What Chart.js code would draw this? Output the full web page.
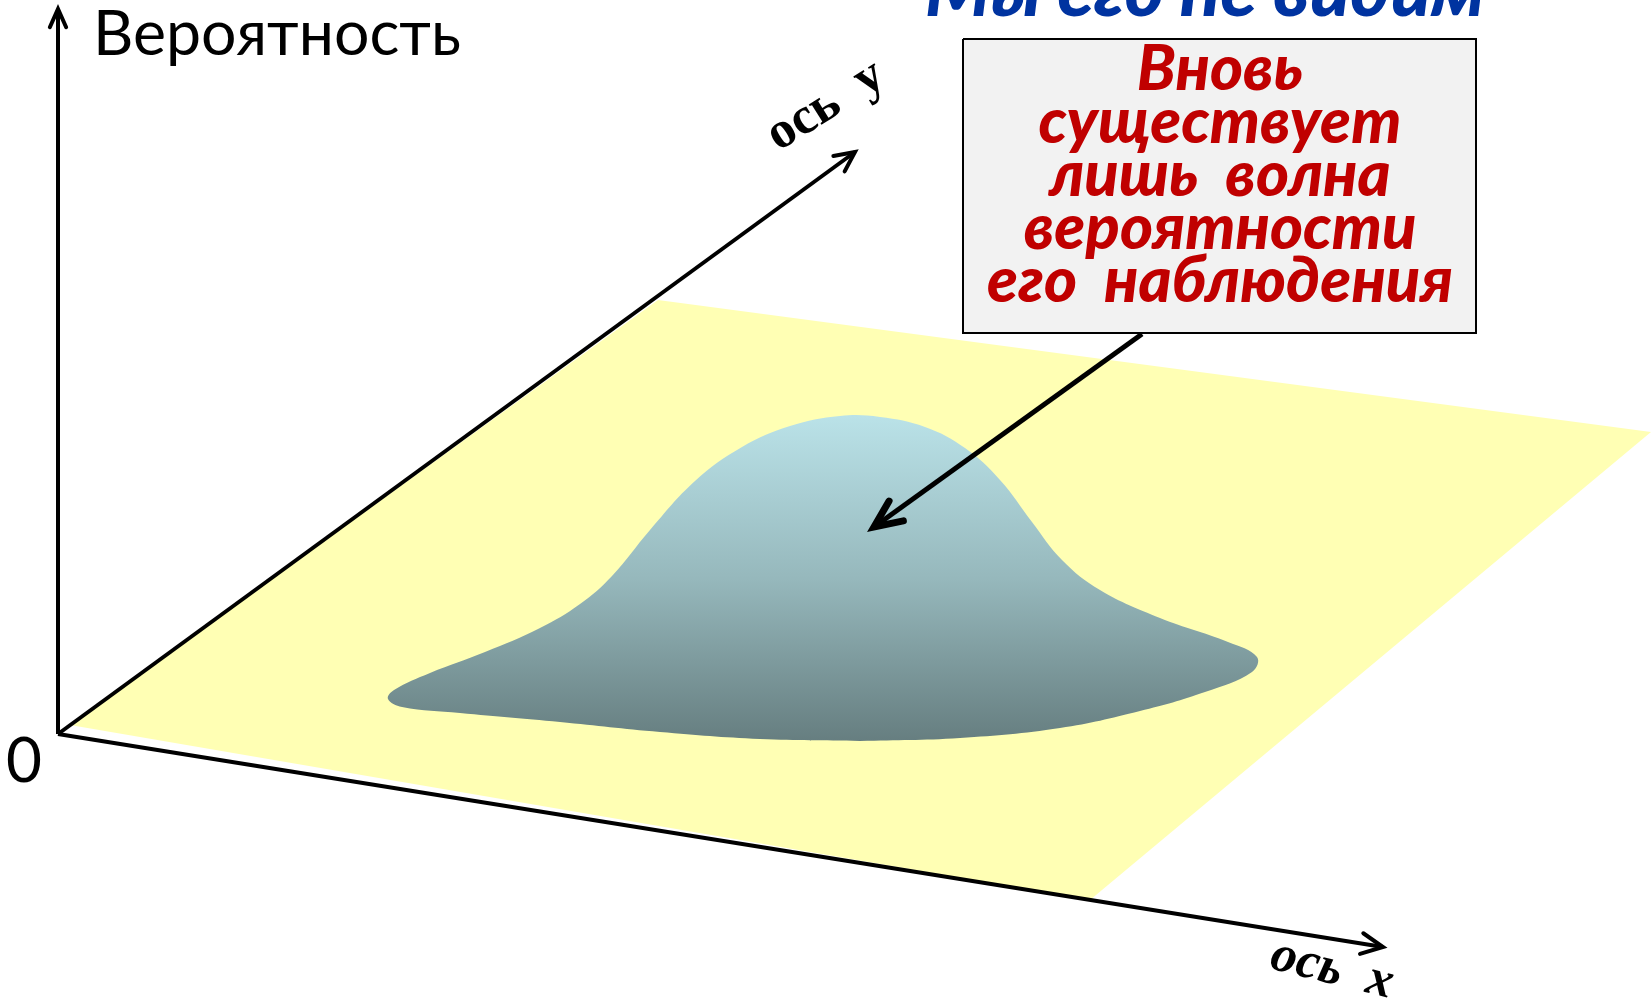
<!DOCTYPE html>
<html>
<head>
<meta charset="utf-8">
<script src="https://cdn.jsdelivr.net/npm/chart.js@4.4.0/dist/chart.umd.min.js"></script>
<style>
html, body { margin: 0; padding: 0; background: #fff; }
#wrap { width: 1651px; height: 998px; position: relative; }
</style>
</head>
<body>
<div id="wrap"><canvas id="waveChart"></canvas></div>
<script>
// picture coordinates, y grows downward (the y scale is reversed)
const planeX = [70, 658, 1651, 1090, 70];
const planeY = [725, 300, 432, 900, 725];

// outline of the wave, starting at the bottom so the seam falls on a flat part
const blobX = [860, 760, 660, 560, 460, 402, 388, 394, 430, 485, 540, 580, 612, 650, 695, 742, 790, 840, 880, 925, 965, 1000, 1032, 1062, 1100, 1160, 1228, 1257, 1252, 1205, 1140, 1060, 960, 860];
const blobY = [741, 739, 732, 722, 713, 707, 699, 690, 673, 652, 628, 604, 576, 530, 481, 447, 426, 416, 417, 427, 448, 480, 522, 560, 590, 618, 642, 657, 672, 692, 711, 728, 738, 741];

const axisVertX = [58, 58];
const axisVertY = [734, 9];
const axisDepthX = [58, 855];
const axisDepthY = [734, 152];
const axisRightX = [58, 1383];
const axisRightY = [734, 947];

const boxX = [963, 1476, 1476, 963, 963];
const boxY = [39, 39, 333, 333, 39];

const pointerX = [1142, 874];
const pointerY = [334, 527];

const probLabel = 'Вероятность';
const zeroLabel = '0';
const depthLabel = 'ось  y';
const rightLabel = 'ось  x';
const headerText = 'Мы его не видим';
const boxLines = ['Вновь', 'существует', 'лишь  волна', 'вероятности', 'его  наблюдения'];

const toPts = (xs, ys) => xs.map((x, i) => ({ x: x, y: ys[i] }));

const lineSet = (xs, ys, extra) => Object.assign({
    data: toPts(xs, ys),
    showLine: true,
    pointRadius: 0,
    pointHoverRadius: 0,
    borderColor: '#000',
    borderWidth: 4,
    fill: false,
    tension: 0,
    clip: false
}, extra);

const blobFill = (context) => {
    const chart = context.chart;
    const y = chart.scales.y;
    if (!chart.chartArea || !y) return 'rgb(150,184,188)';
    const top = y.getPixelForValue(416), bottom = y.getPixelForValue(741);
    if (!isFinite(top) || !isFinite(bottom)) return 'rgb(150,184,188)';
    const g = chart.ctx.createLinearGradient(0, top, 0, bottom);
    g.addColorStop(0, 'rgb(186,226,232)');
    g.addColorStop(0.5, 'rgb(150,184,188)');
    g.addColorStop(1, 'rgb(102,126,128)');
    return g;
};

// open V heads at the end of datasets that ask for one
const arrowHeads = {
    id: 'arrowHeads',
    afterDatasetsDraw(chart) {
        const c = chart.ctx;
        chart.data.datasets.forEach((ds, i) => {
            if (!ds.arrow) return;
            const pts = chart.getDatasetMeta(i).data;
            const a = pts[pts.length - 2], b = pts[pts.length - 1];
            const ang = Math.atan2(b.y - a.y, b.x - a.x);
            const len = ds.arrow.len, spread = ds.arrow.spread;
            c.save();
            c.strokeStyle = '#000';
            c.lineWidth = ds.arrow.width;
            c.lineCap = 'round';
            c.lineJoin = 'miter';
            c.beginPath();
            c.moveTo(b.x - len * Math.cos(ang - spread), b.y - len * Math.sin(ang - spread));
            c.lineTo(b.x, b.y);
            c.lineTo(b.x - len * Math.cos(ang + spread), b.y - len * Math.sin(ang + spread));
            c.stroke();
            c.restore();
        });
    }
};

const fitSize = (c, text, style, family, target) => {
    c.font = style + ' 100px ' + family;
    return 100 * target / c.measureText(text).width;
};

const textLayer = {
    id: 'textLayer',
    afterDraw(chart) {
        const c = chart.ctx;
        const sx = v => chart.scales.x.getPixelForValue(v);
        const sy = v => chart.scales.y.getPixelForValue(v);
        const sans = 'Lato, "Open Sans", sans-serif';
        c.save();

        // vertical axis title
        let s = fitSize(c, probLabel, '400', sans, 368);
        c.font = '400 ' + s + 'px ' + sans;
        c.fillStyle = '#000';
        c.textAlign = 'left';
        c.textBaseline = 'alphabetic';
        c.fillText(probLabel, sx(93), sy(55));

        c.font = '400 62px ' + sans;
        c.fillText(zeroLabel, sx(6), sy(782));

        // header, cut by the top edge
        s = fitSize(c, headerText, 'italic 900', sans, 560);
        c.font = 'italic 900 ' + s + 'px ' + sans;
        c.fillStyle = 'rgb(0,51,160)';
        c.textAlign = 'center';
        c.fillText(headerText, sx(1205), sy(16));

        // callout text
        s = fitSize(c, boxLines[4], 'italic 900', sans, 466);
        c.font = 'italic 900 ' + s + 'px ' + sans;
        c.fillStyle = '#c00000';
        boxLines.forEach((t, i) => c.fillText(t, sx(1220), sy(90 + i * 53)));

        // axis names
        const serif = '"Liberation Serif", "DejaVu Serif", serif';
        c.fillStyle = '#000';
        c.textBaseline = 'middle';
        c.save();
        c.translate(sx(826), sy(106));
        c.rotate(-32 * Math.PI / 180);
        c.font = '700 52px ' + serif;
        c.fillText(depthLabel, 0, 0);
        c.restore();

        c.save();
        c.translate(sx(1332), sy(970));
        c.rotate(14 * Math.PI / 180);
        c.font = 'italic 700 52px ' + serif;
        c.fillText(rightLabel, 0, 0);
        c.restore();

        c.restore();
    }
};

new Chart(document.getElementById('waveChart').getContext('2d'), {
    type: 'scatter',
    data: {
        datasets: [
            lineSet(planeX, planeY, { fill: 'shape', backgroundColor: 'rgb(255,255,180)', borderColor: 'transparent', borderWidth: 1, order: 6 }),
            lineSet(blobX, blobY, { fill: 'shape', backgroundColor: blobFill, borderColor: 'transparent', borderWidth: 1, tension: 0.4, order: 5 }),
            lineSet(axisVertX, axisVertY, { order: 4, arrow: { len: 20, spread: 0.42, width: 4 } }),
            lineSet(axisDepthX, axisDepthY, { order: 4, arrow: { len: 22, spread: 0.45, width: 4 } }),
            lineSet(axisRightX, axisRightY, { order: 4, arrow: { len: 24, spread: 0.45, width: 4 } }),
            lineSet(boxX, boxY, { fill: 'shape', backgroundColor: '#f2f2f2', borderColor: '#000', borderWidth: 2, order: 3 }),
            lineSet(pointerX, pointerY, { borderWidth: 5, order: 2, arrow: { len: 30, spread: 0.42, width: 7 } })
        ]
    },
    options: {
        responsive: true,
        maintainAspectRatio: false,
        animation: false,
        events: [],
        layout: { padding: 0 },
        scales: {
            x: { type: 'linear', min: 0, max: 1651, display: false },
            y: { type: 'linear', min: 0, max: 998, reverse: true, display: false }
        },
        plugins: {
            legend: { display: false },
            tooltip: { enabled: false }
        }
    },
    plugins: [arrowHeads, textLayer]
});
</script>
</body>
</html>
